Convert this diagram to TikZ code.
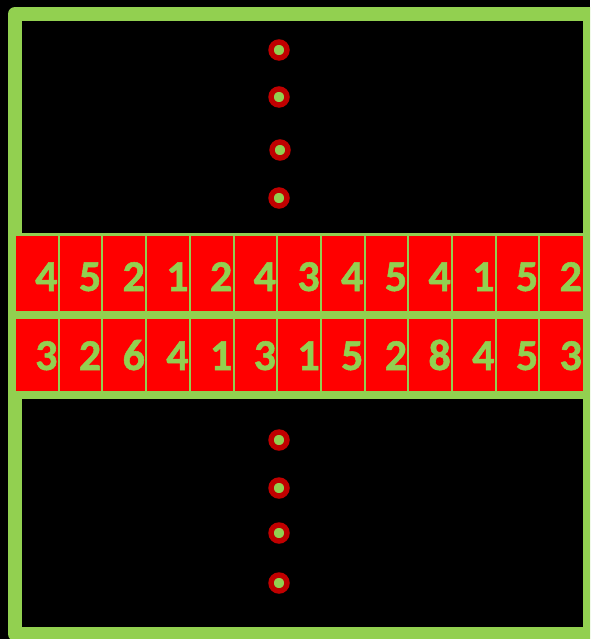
\documentclass[tikz,border=0pt]{standalone}
\usepackage{fontspec}
\setmainfont{Carlito}
\newfontfamily\numfont{Carlito}[FakeBold=1.2]
\definecolor{fgreen}{HTML}{92D050}
\definecolor{cred}{HTML}{FF0000}
\definecolor{dred}{HTML}{C00000}
\begin{document}
\begin{tikzpicture}[x=1pt,y=-1pt,
  num/.style={anchor=base east, inner sep=0pt, text=fgreen, font=\fontsize{44}{44}\numfont\bfseries},
  ring/.style={circle, draw=dred, line width=5.4pt, fill=fgreen, minimum size=16pt, inner sep=0pt},
  band/.style={fill=fgreen}]
\useasboundingbox (0,0) rectangle (590,639);
\clip (0,0) rectangle (590,639);
\fill[black] (0,0) rectangle (590,639);
% frame
\draw[fgreen, line width=14pt, line join=round] (15,14) rectangle (590,634);
% cells
\fill[cred] (16,234) rectangle (583,391);
\fill[band] (16,233) rectangle (583,235.5);
\fill[band] (15,311) rectangle (583,319);
\fill[band] (15,391) rectangle (583,399);
\foreach \k in {1,...,12} {
  \fill[band] ({15+43.7*\k-1},234) rectangle ({15+43.7*\k+1},391);
}
% numbers
\foreach \v [count=\k] in {4,5,2,1,2,4,3,4,5,4,1,5,2} {
  \node[num] (a\k) at ({15+43.7*\k-1},291) {\v};
}
\foreach \v [count=\k] in {3,2,6,4,1,3,1,5,2,8,4,5,3} {
  \node[num] (b\k) at ({15+43.7*\k-1},370) {\v};
}
% rings
\node[ring] (t1) at (279,50) {};
\node[ring] (t2) at (279,97) {};
\node[ring] (t3) at (280,150) {};
\node[ring] (t4) at (279,198) {};
\node[ring] (u1) at (279,440) {};
\node[ring] (u2) at (279,488) {};
\node[ring] (u3) at (279,533) {};
\node[ring] (u4) at (279,583) {};
\end{tikzpicture}
\end{document}
